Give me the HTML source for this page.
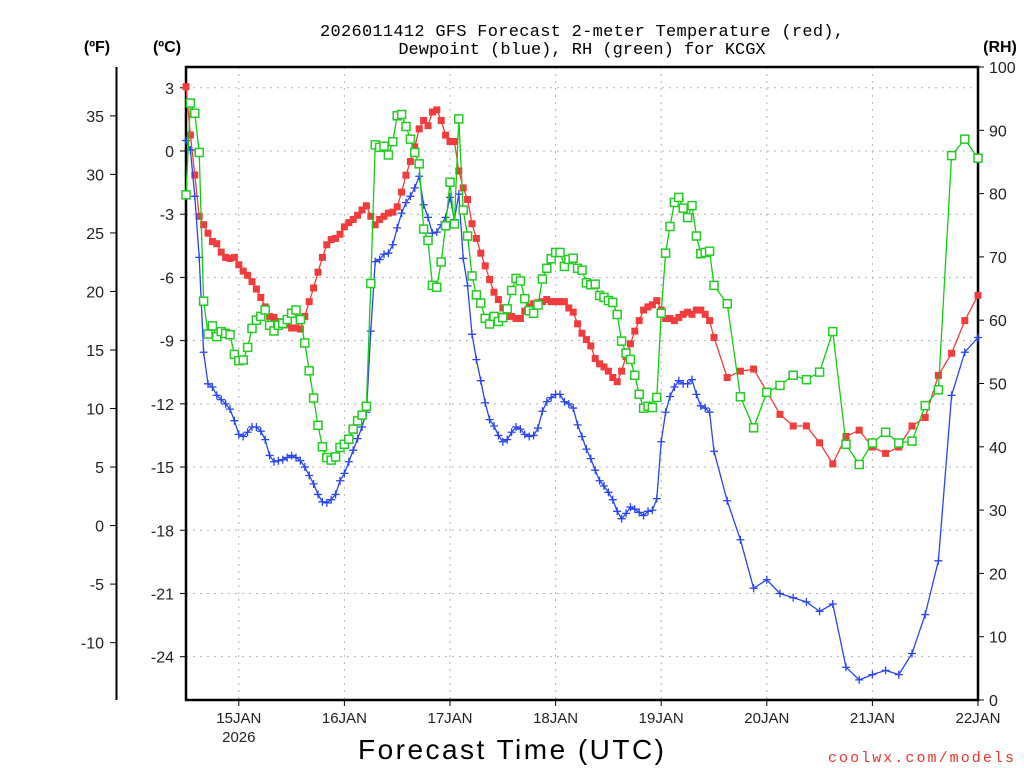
<!DOCTYPE html>
<html><head><meta charset="utf-8"><style>
body{margin:0;background:#fff;}
svg{display:block;font-family:"Liberation Sans",sans-serif;}
</style></head><body>
<svg id="chart" width="1024" height="768" viewBox="0 0 1024 768">
<rect x="0" y="0" width="1024" height="768" fill="#fff"/>
<text x="582" y="36" text-anchor="middle" font-size="17" fill="#000" font-family="Liberation Mono, monospace" textLength="524">2026011412 GFS Forecast 2-meter Temperature (red),</text>
<text x="582" y="54" text-anchor="middle" font-size="17" fill="#000" font-family="Liberation Mono, monospace">Dewpoint (blue), RH (green) for KCGX</text>
<text x="97" y="52" text-anchor="middle" font-size="16" font-weight="bold">(ºF)</text>
<text x="167" y="52" text-anchor="middle" font-size="16" font-weight="bold">(ºC)</text>
<text x="1000" y="52" text-anchor="middle" font-size="16" font-weight="bold">(RH)</text>
<text x="511" y="759" text-anchor="middle" font-size="28" textLength="306" lengthAdjust="spacing">Forecast Time (UTC)</text>
<text x="921" y="762" text-anchor="middle" font-size="15" fill="#ee3333" font-family="Liberation Mono, monospace" textLength="186" lengthAdjust="spacing">coolwx.com/models</text>
<g id="grid"></g><g id="axes"></g><g id="series"></g>
</svg>
<script>
const hoursHourly = [];
for (let h = 0; h <= 120; h++) hoursHourly.push(h);
const hours3 = [123,126,129,132,135,138,141,144,147,150,153,156,159,162,165,168,171,174,177,180];
const tempC = [3.05,0.76,-1.14,-3.1,-3.5,-3.9,-4.3,-4.4,-4.8,-5.05,
-5.1,-5.05,-5.4,-5.7,-5.9,-6.2,-6.55,-6.95,-7.4,-7.85,
-7.9,-8.1,-8.25,-8.25,-8.4,-8.4,-8.45,-7.85,-7.15,-6.5,
-5.75,-5.05,-4.45,-4.2,-4.15,-3.95,-3.6,-3.4,-3.25,-3.05,
-2.8,-2.6,-3.1,-3.5,-3.25,-3.1,-2.95,-2.9,-2.65,-1.95,
-1.15,-0.5,0.2,1.05,1.45,1.2,1.85,1.95,1.45,0.75,
0.45,0.45,-0.95,-1.75,-2.3,-3.45,-4.15,-4.85,-5.45,-6.1,
-6.7,-7.05,-7.45,-7.85,-7.85,-7.95,-7.95,-7.6,-7.4,-7.25,
-7.2,-7.15,-7.05,-7.15,-7.15,-7.15,-7.15,-7.45,-7.65,-8.2,
-8.65,-8.95,-9.25,-9.85,-10.1,-10.25,-10.45,-10.75,-10.95,-10.45,
-9.75,-9.15,-8.55,-8.05,-7.55,-7.4,-7.3,-7.1,-7.55,-7.95,
-7.95,-8.05,-7.9,-7.75,-7.65,-7.75,-7.55,-7.55,-7.75,-8.05,
-8.85,
-10.75,-10.45,-10.35,-11.4,-12.5,-13.05,-13.05,-13.85,-14.85,-13.55,
-13.25,-14.05,-14.35,-14.05,-13.05,-12.65,-10.65,-9.6,-8.05,-6.85];
const dewC = [0.5,0.05,-2.15,-5.05,-9.55,-11.05,-11.2,-11.6,-11.8,-12.0,
-12.25,-12.8,-13.45,-13.55,-13.35,-13.1,-13.1,-13.3,-13.7,-14.45,
-14.75,-14.7,-14.65,-14.55,-14.45,-14.55,-14.7,-15.0,-15.4,-15.8,
-16.3,-16.65,-16.7,-16.55,-16.3,-15.65,-15.3,-14.75,-14.2,-13.65,
-13.1,-12.4,-8.55,-5.25,-5.15,-4.9,-4.85,-4.45,-3.65,-2.95,
-2.45,-2.15,-1.75,-1.2,-2.55,-3.15,-3.9,-3.85,-3.5,-3.15,
-2.2,-3.25,-2.05,-5.1,-6.4,-8.7,-9.9,-10.9,-11.95,-12.75,
-13.05,-13.5,-13.8,-13.7,-13.35,-13.1,-13.2,-13.45,-13.55,-13.5,
-13.15,-12.35,-11.9,-11.7,-11.55,-11.55,-11.9,-12.0,-12.2,-13.0,
-13.55,-14.15,-14.6,-15.15,-15.65,-15.9,-16.2,-16.55,-17.1,-17.45,
-17.2,-16.9,-17.0,-17.15,-17.3,-17.1,-17.05,-16.5,-13.8,-12.4,
-11.65,-11.2,-10.9,-11.05,-11.05,-10.85,-11.55,-12.1,-12.2,-12.4,
-14.25,
-16.6,-18.45,-20.75,-20.35,-21.0,-21.2,-21.4,-21.85,-21.5,-24.5,
-25.1,-24.85,-24.65,-24.85,-23.85,-22.0,-19.45,-11.6,-9.55,-8.85];
const rhPct = [79.8,94.3,92.7,86.5,63.0,57.8,59.1,57.4,58.2,57.9,
57.7,54.6,53.6,53.7,55.7,58.7,60.0,60.6,61.6,59.2,
58.3,59.2,59.5,60.1,61.1,61.6,60.1,56.4,52.0,47.7,
43.4,40.0,38.3,37.9,38.4,39.9,40.4,41.2,42.8,44.1,
45.0,46.4,65.8,87.7,87.3,87.5,86.1,88.2,92.3,92.5,
90.6,88.6,86.5,84.7,74.4,72.6,65.5,65.2,69.2,74.9,
81.8,75.2,91.8,77.4,73.3,67.0,64.0,62.7,60.3,59.4,
60.6,59.8,60.4,61.8,64.7,66.6,66.2,63.4,61.5,61.1,
62.4,66.5,68.2,69.7,70.7,70.7,68.5,69.6,69.8,68.2,
67.9,65.9,65.6,65.7,63.9,63.6,63.1,62.8,60.9,56.7,
54.8,53.8,51.3,48.3,46.1,46.4,46.2,47.8,61.1,70.6,
74.8,78.6,79.4,77.7,76.2,78.1,73.3,70.5,70.7,70.9,
65.5,
62.6,47.9,43.0,48.6,49.7,51.3,50.6,51.8,58.2,40.4,
37.2,40.6,42.3,40.6,40.9,46.5,49.0,86.0,88.6,85.6];
const dayLabels = ["15JAN","16JAN","17JAN","18JAN","19JAN","20JAN","21JAN","22JAN"];
const dayHours = [12,36,60,84,108,132,156,180];
const cTicks = [3,0,-3,-6,-9,-12,-15,-18,-21,-24];
const fTicks = [35,30,25,20,15,10,5,0,-5,-10];
const rhTicks = [0,10,20,30,40,50,60,70,80,90,100];

const NS = "http://www.w3.org/2000/svg";
const X0 = 186, X1 = 978, Y0 = 67, Y1 = 700;
const xOf = h => X0 + (h / 180) * (X1 - X0);
const yC = c => 151 - c * 21.07;
const yF = f => yC((f - 32) * 5 / 9);
const yRH = r => Y1 - r * (Y1 - Y0) / 100;
const allHours = hoursHourly.concat(hours3);

function mk(tag, attrs, parent) {
  const e = document.createElementNS(NS, tag);
  for (const k in attrs) e.setAttribute(k, attrs[k]);
  parent.appendChild(e);
  return e;
}
const grid = document.getElementById('grid');
const axes = document.getElementById('axes');
const series = document.getElementById('series');

cTicks.forEach(c => {
  const l = mk('line', {x1: X0, x2: X1, y1: yC(c), y2: yC(c), stroke: '#b4b4b4', 'stroke-dasharray': '2,5'}, grid);
  
  
  const t = mk('line', {x1: X0 - 6, x2: X0, y1: yC(c), y2: yC(c), stroke: '#000'}, axes);
  
  
  const tx = mk('text', {x: 174, y: yC(c) + 6, 'text-anchor': 'end', 'font-size': 16, fill: '#222'}, axes);
  
  
  tx.textContent = c;
});
dayHours.forEach((h, i) => {
  if (h < 180) {
    const l = mk('line', {x1: xOf(h), x2: xOf(h), y1: Y0, y2: Y1, stroke: '#b4b4b4', 'stroke-dasharray': '2,5'}, grid);
    
    
  }
  const t = mk('line', {x1: xOf(h), x2: xOf(h), y1: Y1, y2: Y1 + 6, stroke: '#000'}, axes);
  
  
  const tx = mk('text', {x: xOf(h), y: 723, 'text-anchor': 'middle', 'font-size': 15, fill: '#222'}, axes);
  
  
  tx.textContent = dayLabels[i];
});
const yr = mk('text', {x: xOf(12), y: 742, 'text-anchor': 'middle', 'font-size': 15, fill: '#222'}, axes);


yr.textContent = '2026';

fTicks.forEach(f => {
  const t = mk('line', {x1: 110, x2: 116, y1: yF(f), y2: yF(f), stroke: '#000'}, axes);
  
  
  const tx = mk('text', {x: 104, y: yF(f) + 6, 'text-anchor': 'end', 'font-size': 16, fill: '#222'}, axes);
  
  
  tx.textContent = f;
});
rhTicks.forEach(r => {
  const t = mk('line', {x1: X1, x2: X1 + 6, y1: yRH(r), y2: yRH(r), stroke: '#000'}, axes);
  
  
  const tx = mk('text', {x: 989, y: yRH(r) + 6, 'text-anchor': 'start', 'font-size': 16, fill: '#222'}, axes);
  
  
  tx.textContent = r;
});
const fAxis = mk('line', {x1: 116.5, x2: 116.5, y1: Y0, y2: Y1, stroke: '#000', 'stroke-width': 2}, axes);


const frame = mk('rect', {x: X0, y: Y0, width: X1 - X0, height: Y1 - Y0, fill: 'none', stroke: '#000', 'stroke-width': 2.5}, axes);



function drawSeries(vals, yFn, color, kind, name) {
  const g = mk('g', {}, series);
  
  
  const pts = vals.map((v, i) => xOf(allHours[i]).toFixed(1) + ',' + yFn(v).toFixed(1)).join(' ');
  const pl = mk('polyline', {points: pts, fill: 'none', stroke: color, 'stroke-width': 1.3}, g);
  
  
  vals.forEach((v, i) => {
    const x = xOf(allHours[i]), y = yFn(v);
    let m;
    if (kind === 'filled') {
      m = mk('rect', {x: x - 3.5, y: y - 3.5, width: 7, height: 7, fill: color}, g);
    } else if (kind === 'open') {
      m = mk('rect', {x: x - 4, y: y - 4, width: 8, height: 8, fill: '#fff', stroke: '#22cc22', 'stroke-width': 1.5}, g);
    } else {
      m = mk('path', {d: `M${x-4} ${y}H${x+4}M${x} ${y-4}V${y+4}`, stroke: color, 'stroke-width': 1.3}, g);
    }
    
    
  });
}
drawSeries(tempC, yC, '#f03c3c', 'filled', 'temperature');
drawSeries(dewC, yC, '#2a44f0', 'plus', 'dewpoint');
drawSeries(rhPct, yRH, '#11cc11', 'open', 'relative-humidity');
</script>
</body></html>
